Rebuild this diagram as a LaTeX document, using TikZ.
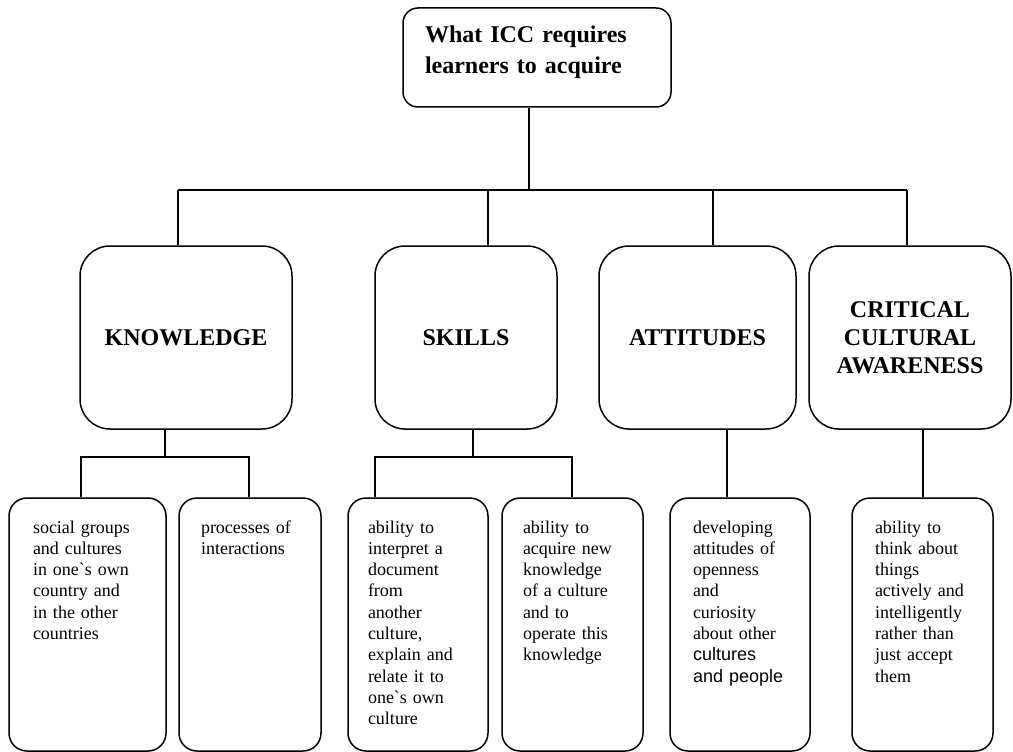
\documentclass[tikz,border=0pt]{standalone}
\usepackage{fontspec}
\setmainfont{Liberation Serif}
\newfontfamily\sansfont{Liberation Sans}
\newfontfamily\rawserif{Liberation Serif}[Mapping=]
\usepackage{tikz}
\newcommand{\grv}{{\rawserif\symbol{"60}}}
\tikzset{
  rootbox/.style={draw, rounded corners=15pt, line width=1.5pt, align=left,
    text width=224pt, inner xsep=22pt, inner ysep=18pt, text height=17pt, text depth=46pt,
    font=\fontsize{24}{31}\selectfont\bfseries},
  areabox/.style={draw, rounded corners=30pt, line width=1.5pt, align=center,
    minimum height=183pt, inner sep=0pt, font=\fontsize{24}{28}\selectfont\bfseries},
  leafbox/.style={draw, rounded corners=18pt, line width=1.5pt, align=left,
    inner ysep=22pt, text height=13pt, text depth=196pt, font=\fontsize{18}{21.3}\selectfont},
  conn/.style={line width=2pt},
  trunk/.style={line width=2.8pt},
  twig/.style={line width=1.5pt}
}
\begin{document}
\begin{tikzpicture}[x=1pt, y=-1pt]
        \useasboundingbox (0,0) rectangle (1013,752);

        % Root
        \node[rootbox] (top) at (537,57.5) {What ICC requires\\learners to acquire};

        % Areas
        \node[areabox, minimum width=212pt] (know) at (186,337.5) {KNOWLEDGE};
        \node[areabox, minimum width=182pt] (skill) at (466,337.5) {SKILLS};
        \node[areabox, minimum width=197pt] (att) at (697.5,337.5) {ATTITUDES};
        \node[areabox, minimum width=202pt] (cca) at (910,337.5) {CRITICAL\\CULTURAL\\AWARENESS};

        % Leaves
        \node[leafbox, text width=109pt, inner xsep=24pt] (k1) at (87.5,624.5)
            {social groups\\and cultures\\in one\grv s own\\country and\\in the other\\countries};
        \node[leafbox, text width=98pt, inner xsep=22pt] (k2) at (250,624.5)
            {processes of\\interactions};
        \node[leafbox, text width=100pt, inner xsep=20pt] (s1) at (418,624.5)
            {ability to\\interpret a\\document\\from\\another\\culture,\\explain and\\relate it to\\one\grv s own\\culture};
        \node[leafbox, text width=99pt, inner xsep=21pt] (s2) at (572.5,624.5)
            {ability to\\acquire new\\knowledge\\of a culture\\and to\\operate this\\knowledge};
        \node[leafbox, text width=94pt, inner xsep=23pt] (a1) at (740,624.5)
            {developing\\attitudes of\\openness\\and\\curiosity\\about other\\{\sansfont cultures}\\{\sansfont and people}};
        \node[leafbox, text width=95pt, inner xsep=23pt] (c1) at (922.5,624.5)
            {ability to\\think about\\things\\actively and\\intelligently\\rather than\\just accept\\them};

        % Connections
        % root -> areas
        \coordinate (bar) at (529,190);
        \coordinate (kn) at (178,190);
        \coordinate (sk) at (488,190);
        \coordinate (at) at (713,190);
        \coordinate (cc) at (907,190);
        \draw[conn] (top.south -| bar) -- (bar);
        \draw[trunk] (kn) -- (cc);
        \foreach \c/\n in {kn/know, sk/skill, at/att, cc/cca} {
            \draw[conn] (\c) -- (\c |- \n.north);
        }

        % areas -> leaves
        \coordinate (kb) at (165,457);
        \coordinate (kl) at (81,457);
        \coordinate (kr) at (249,457);
        \coordinate (sb) at (473,457);
        \coordinate (sl) at (375,457);
        \coordinate (sr) at (572,457);
        \draw[conn] (kb |- know.south) -- (kb);
        \draw[twig] (kl |- k1.north) -- (kl) -- (kr) -- (kr |- k2.north);
        \draw[conn] (sb |- skill.south) -- (sb);
        \draw[twig] (sl |- s1.north) -- (sl) -- (sr) -- (sr |- s2.north);
        \coordinate (ab) at (726.5,457);
        \coordinate (cb) at (922.5,457);
        \draw[conn] (ab |- att.south) -- (ab |- a1.north);
        \draw[conn] (cb |- cca.south) -- (cb |- c1.north);

    \end{tikzpicture}
\end{document}
